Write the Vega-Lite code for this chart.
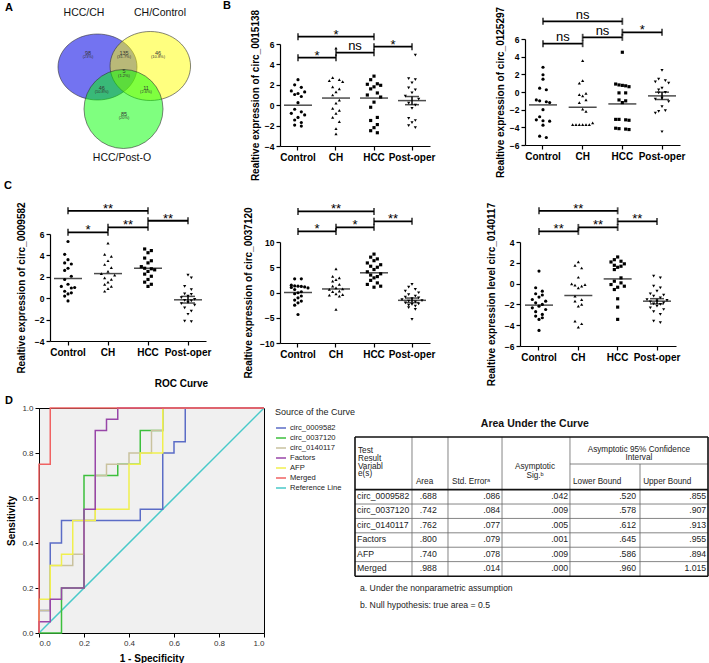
{
"$schema":"https://vega.github.io/schema/vega-lite/v6.json",
"padding":0,
"config":{"font":"Liberation Sans","view":{"stroke":null},"concat":{"spacing":0},
"axis":{"grid":false,"domainColor":"#000","tickColor":"#000","labelColor":"#000","titleColor":"#000","labelOverlap":false},
"title":{"color":"#000"}},
"resolve":{"scale":{"color":"independent","shape":"independent"},"legend":{"color":"independent","shape":"independent"}},
"datasets":{
"b1":[
{"g":"Control","v":2.5,"j":0},{"g":"Control","v":2.0,"j":-1},{"g":"Control","v":1.75,"j":1},{"g":"Control","v":1.4,"j":-2},{"g":"Control","v":1.3,"j":2},{"g":"Control","v":1.15,"j":0},{"g":"Control","v":1.05,"j":-1},{"g":"Control","v":0.85,"j":1},{"g":"Control","v":0.25,"j":0},{"g":"Control","v":-0.4,"j":-1},{"g":"Control","v":-0.65,"j":1},{"g":"Control","v":-0.8,"j":-2},{"g":"Control","v":-0.95,"j":2},{"g":"Control","v":-1.2,"j":0},{"g":"Control","v":-1.45,"j":-1},{"g":"Control","v":-1.7,"j":1},{"g":"Control","v":-1.95,"j":-1},{"g":"Control","v":-2.05,"j":1},
{"g":"CH","v":5.6,"j":0},{"g":"CH","v":2.7,"j":-1},{"g":"CH","v":2.5,"j":1},{"g":"CH","v":2.4,"j":-2},{"g":"CH","v":2.3,"j":2},{"g":"CH","v":1.8,"j":-1},{"g":"CH","v":1.6,"j":1},{"g":"CH","v":1.3,"j":0},{"g":"CH","v":1.0,"j":-1},{"g":"CH","v":0.5,"j":1},{"g":"CH","v":0.2,"j":0},{"g":"CH","v":-0.3,"j":-1},{"g":"CH","v":-0.5,"j":1},{"g":"CH","v":-0.8,"j":0},{"g":"CH","v":-1.2,"j":-1},{"g":"CH","v":-1.6,"j":1},{"g":"CH","v":-2.3,"j":0},{"g":"CH","v":-2.8,"j":0},
{"g":"HCC","v":2.85,"j":0},{"g":"HCC","v":2.5,"j":-1},{"g":"HCC","v":2.1,"j":1},{"g":"HCC","v":2.05,"j":-2},{"g":"HCC","v":1.95,"j":2},{"g":"HCC","v":1.8,"j":0},{"g":"HCC","v":1.6,"j":-1},{"g":"HCC","v":1.2,"j":1},{"g":"HCC","v":1.0,"j":-2},{"g":"HCC","v":0.8,"j":2},{"g":"HCC","v":0.3,"j":0},{"g":"HCC","v":-0.2,"j":-1},{"g":"HCC","v":-1.2,"j":1},{"g":"HCC","v":-1.5,"j":-1},{"g":"HCC","v":-1.9,"j":1},{"g":"HCC","v":-2.2,"j":0},{"g":"HCC","v":-2.5,"j":-1},{"g":"HCC","v":-2.7,"j":1},
{"g":"Post-oper","v":4.9,"j":1},{"g":"Post-oper","v":2.6,"j":-1},{"g":"Post-oper","v":2.5,"j":1},{"g":"Post-oper","v":2.2,"j":0},{"g":"Post-oper","v":1.7,"j":-1},{"g":"Post-oper","v":1.5,"j":1},{"g":"Post-oper","v":1.2,"j":0},{"g":"Post-oper","v":0.9,"j":-2},{"g":"Post-oper","v":0.6,"j":2},{"g":"Post-oper","v":0.2,"j":-1},{"g":"Post-oper","v":0.0,"j":1},{"g":"Post-oper","v":-0.3,"j":0},{"g":"Post-oper","v":-1.3,"j":-1},{"g":"Post-oper","v":-1.5,"j":1},{"g":"Post-oper","v":-1.7,"j":0},{"g":"Post-oper","v":-2.0,"j":-1},{"g":"Post-oper","v":-2.2,"j":1}],
"b2":[
{"g":"Control","v":2.8,"j":0},{"g":"Control","v":1.95,"j":0},{"g":"Control","v":1.45,"j":0},{"g":"Control","v":0.43,"j":-1},{"g":"Control","v":0.25,"j":1},{"g":"Control","v":-0.9,"j":-2},{"g":"Control","v":-1.0,"j":-1},{"g":"Control","v":-1.1,"j":1},{"g":"Control","v":-1.2,"j":2},{"g":"Control","v":-2.0,"j":0},{"g":"Control","v":-2.8,"j":-1},{"g":"Control","v":-3.15,"j":-2},{"g":"Control","v":-3.25,"j":0},{"g":"Control","v":-3.3,"j":2},{"g":"Control","v":-3.75,"j":0},{"g":"Control","v":-5.0,"j":-1},{"g":"Control","v":-5.15,"j":1},
{"g":"CH","v":3.55,"j":0},{"g":"CH","v":1.3,"j":0},{"g":"CH","v":1.0,"j":-1},{"g":"CH","v":-0.15,"j":1},{"g":"CH","v":-0.3,"j":-1},{"g":"CH","v":-0.45,"j":0},{"g":"CH","v":-0.9,"j":1},{"g":"CH","v":-1.2,"j":-1},{"g":"CH","v":-1.95,"j":0},{"g":"CH","v":-2.2,"j":1},{"g":"CH","v":-3.5,"j":3},{"g":"CH","v":-3.7,"j":-3},{"g":"CH","v":-3.7,"j":-2},{"g":"CH","v":-3.7,"j":-1},{"g":"CH","v":-3.7,"j":0},{"g":"CH","v":-3.7,"j":1},{"g":"CH","v":-3.7,"j":2},
{"g":"HCC","v":4.5,"j":0},{"g":"HCC","v":0.9,"j":-2},{"g":"HCC","v":0.8,"j":-1},{"g":"HCC","v":0.75,"j":0},{"g":"HCC","v":0.7,"j":1},{"g":"HCC","v":0.6,"j":2},{"g":"HCC","v":-0.1,"j":-1},{"g":"HCC","v":-0.1,"j":1},{"g":"HCC","v":-0.9,"j":-1},{"g":"HCC","v":-1.0,"j":1},{"g":"HCC","v":-1.2,"j":0},{"g":"HCC","v":-3.1,"j":-2},{"g":"HCC","v":-3.1,"j":-1},{"g":"HCC","v":-3.15,"j":1},{"g":"HCC","v":-3.2,"j":2},{"g":"HCC","v":-4.1,"j":-2},{"g":"HCC","v":-4.15,"j":-1},{"g":"HCC","v":-4.2,"j":1},{"g":"HCC","v":-4.25,"j":2},
{"g":"Post-oper","v":2.45,"j":0},{"g":"Post-oper","v":1.45,"j":-1},{"g":"Post-oper","v":1.3,"j":1},{"g":"Post-oper","v":1.15,"j":-2},{"g":"Post-oper","v":1.0,"j":2},{"g":"Post-oper","v":0.45,"j":0},{"g":"Post-oper","v":0.25,"j":-1},{"g":"Post-oper","v":-0.05,"j":1},{"g":"Post-oper","v":-0.1,"j":-1},{"g":"Post-oper","v":-0.7,"j":0},{"g":"Post-oper","v":-0.8,"j":-2},{"g":"Post-oper","v":-1.1,"j":2},{"g":"Post-oper","v":-1.65,"j":0},{"g":"Post-oper","v":-2.1,"j":1},{"g":"Post-oper","v":-2.2,"j":-1},{"g":"Post-oper","v":-2.4,"j":-2},{"g":"Post-oper","v":-4.5,"j":0}],
"c1":[
{"g":"Control","v":5.3,"j":0},{"g":"Control","v":4.1,"j":-1},{"g":"Control","v":3.6,"j":0},{"g":"Control","v":3.3,"j":-1},{"g":"Control","v":3.2,"j":1},{"g":"Control","v":2.8,"j":0},{"g":"Control","v":2.6,"j":-1},{"g":"Control","v":2.05,"j":1},{"g":"Control","v":1.75,"j":-1},{"g":"Control","v":1.3,"j":0},{"g":"Control","v":1.1,"j":-2},{"g":"Control","v":1.0,"j":2},{"g":"Control","v":0.95,"j":1},{"g":"Control","v":0.65,"j":-1},{"g":"Control","v":0.5,"j":1},{"g":"Control","v":0.4,"j":0},{"g":"Control","v":0.2,"j":-1},{"g":"Control","v":-0.25,"j":0},
{"g":"CH","v":5.15,"j":0},{"g":"CH","v":4.1,"j":-1},{"g":"CH","v":3.9,"j":1},{"g":"CH","v":3.5,"j":0},{"g":"CH","v":3.15,"j":-1},{"g":"CH","v":2.85,"j":1},{"g":"CH","v":2.5,"j":0},{"g":"CH","v":2.3,"j":-2},{"g":"CH","v":2.15,"j":2},{"g":"CH","v":1.9,"j":-1},{"g":"CH","v":1.75,"j":1},{"g":"CH","v":1.5,"j":0},{"g":"CH","v":1.3,"j":-1},{"g":"CH","v":1.1,"j":1},{"g":"CH","v":0.9,"j":0},{"g":"CH","v":0.65,"j":-1},
{"g":"HCC","v":4.6,"j":-1},{"g":"HCC","v":4.45,"j":1},{"g":"HCC","v":4.25,"j":0},{"g":"HCC","v":3.75,"j":-1},{"g":"HCC","v":3.5,"j":1},{"g":"HCC","v":3.3,"j":0},{"g":"HCC","v":2.95,"j":-2},{"g":"HCC","v":2.8,"j":-1},{"g":"HCC","v":2.75,"j":1},{"g":"HCC","v":2.65,"j":2},{"g":"HCC","v":2.5,"j":0},{"g":"HCC","v":2.25,"j":-1},{"g":"HCC","v":2.05,"j":1},{"g":"HCC","v":1.75,"j":0},{"g":"HCC","v":1.5,"j":-1},{"g":"HCC","v":1.3,"j":1},{"g":"HCC","v":1.1,"j":0},
{"g":"Post-oper","v":2.15,"j":0},{"g":"Post-oper","v":1.9,"j":1},{"g":"Post-oper","v":1.1,"j":-1},{"g":"Post-oper","v":0.8,"j":1},{"g":"Post-oper","v":0.4,"j":-1},{"g":"Post-oper","v":0.35,"j":1},{"g":"Post-oper","v":0.2,"j":0},{"g":"Post-oper","v":0.05,"j":-2},{"g":"Post-oper","v":-0.1,"j":2},{"g":"Post-oper","v":-0.2,"j":-1},{"g":"Post-oper","v":-0.25,"j":1},{"g":"Post-oper","v":-0.4,"j":0},{"g":"Post-oper","v":-0.5,"j":-2},{"g":"Post-oper","v":-0.65,"j":2},{"g":"Post-oper","v":-0.9,"j":-1},{"g":"Post-oper","v":-1.2,"j":1},{"g":"Post-oper","v":-1.5,"j":0},{"g":"Post-oper","v":-2.15,"j":-1},{"g":"Post-oper","v":-2.2,"j":1}],
"c2":[
{"g":"Control","v":2.7,"j":-1},{"g":"Control","v":2.7,"j":1},{"g":"Control","v":1.45,"j":-2},{"g":"Control","v":1.3,"j":-1},{"g":"Control","v":1.25,"j":0},{"g":"Control","v":1.2,"j":1},{"g":"Control","v":1.1,"j":2},{"g":"Control","v":1.0,"j":-2},{"g":"Control","v":0.9,"j":3},{"g":"Control","v":0.6,"j":-1},{"g":"Control","v":0.15,"j":1},{"g":"Control","v":-0.05,"j":0},{"g":"Control","v":-0.25,"j":-1},{"g":"Control","v":-0.7,"j":1},{"g":"Control","v":-1.05,"j":0},{"g":"Control","v":-1.5,"j":-1},{"g":"Control","v":-1.7,"j":1},{"g":"Control","v":-2.05,"j":0},{"g":"Control","v":-2.5,"j":-1},{"g":"Control","v":-4.35,"j":0},
{"g":"CH","v":4.7,"j":0},{"g":"CH","v":3.2,"j":-1},{"g":"CH","v":2.9,"j":1},{"g":"CH","v":2.55,"j":0},{"g":"CH","v":2.25,"j":-1},{"g":"CH","v":1.6,"j":1},{"g":"CH","v":1.25,"j":-1},{"g":"CH","v":0.9,"j":0},{"g":"CH","v":0.7,"j":2},{"g":"CH","v":0.6,"j":-2},{"g":"CH","v":0.25,"j":1},{"g":"CH","v":0.15,"j":-1},{"g":"CH","v":-0.25,"j":0},{"g":"CH","v":-0.4,"j":2},{"g":"CH","v":-0.5,"j":-2},{"g":"CH","v":-0.7,"j":1},{"g":"CH","v":-3.35,"j":0},
{"g":"HCC","v":7.6,"j":0},{"g":"HCC","v":7.0,"j":-1},{"g":"HCC","v":6.65,"j":1},{"g":"HCC","v":6.3,"j":0},{"g":"HCC","v":5.85,"j":-2},{"g":"HCC","v":5.5,"j":2},{"g":"HCC","v":5.2,"j":-1},{"g":"HCC","v":5.0,"j":1},{"g":"HCC","v":4.55,"j":0},{"g":"HCC","v":4.1,"j":-2},{"g":"HCC","v":3.7,"j":2},{"g":"HCC","v":3.45,"j":-1},{"g":"HCC","v":3.15,"j":1},{"g":"HCC","v":2.9,"j":0},{"g":"HCC","v":2.4,"j":-1},{"g":"HCC","v":1.9,"j":1},{"g":"HCC","v":1.6,"j":-2},{"g":"HCC","v":1.25,"j":2},{"g":"HCC","v":1.05,"j":0},
{"g":"Post-oper","v":1.6,"j":0},{"g":"Post-oper","v":1.05,"j":-1},{"g":"Post-oper","v":0.6,"j":1},{"g":"Post-oper","v":0.25,"j":-2},{"g":"Post-oper","v":-0.05,"j":2},{"g":"Post-oper","v":-0.4,"j":-1},{"g":"Post-oper","v":-0.7,"j":1},{"g":"Post-oper","v":-0.9,"j":-2},{"g":"Post-oper","v":-1.05,"j":2},{"g":"Post-oper","v":-1.2,"j":0},{"g":"Post-oper","v":-1.4,"j":-3},{"g":"Post-oper","v":-1.6,"j":3},{"g":"Post-oper","v":-1.7,"j":-1},{"g":"Post-oper","v":-1.85,"j":1},{"g":"Post-oper","v":-2.05,"j":-2},{"g":"Post-oper","v":-2.25,"j":2},{"g":"Post-oper","v":-2.35,"j":0},{"g":"Post-oper","v":-2.5,"j":-1},{"g":"Post-oper","v":-2.7,"j":1},{"g":"Post-oper","v":-3.0,"j":-1},{"g":"Post-oper","v":-3.35,"j":1},{"g":"Post-oper","v":-5.3,"j":0}],
"c3":[
{"g":"Control","v":1.2,"j":0},{"g":"Control","v":-0.4,"j":-1},{"g":"Control","v":-0.73,"j":1},{"g":"Control","v":-0.98,"j":-1},{"g":"Control","v":-1.1,"j":1},{"g":"Control","v":-1.3,"j":0},{"g":"Control","v":-1.53,"j":-2},{"g":"Control","v":-1.69,"j":2},{"g":"Control","v":-1.85,"j":-1},{"g":"Control","v":-2.0,"j":1},{"g":"Control","v":-2.17,"j":0},{"g":"Control","v":-2.33,"j":-2},{"g":"Control","v":-2.49,"j":2},{"g":"Control","v":-2.7,"j":-1},{"g":"Control","v":-2.96,"j":1},{"g":"Control","v":-3.12,"j":-1},{"g":"Control","v":-3.28,"j":1},{"g":"Control","v":-3.44,"j":0},{"g":"Control","v":-4.5,"j":0},
{"g":"CH","v":2.08,"j":0},{"g":"CH","v":1.76,"j":-1},{"g":"CH","v":1.5,"j":1},{"g":"CH","v":0.61,"j":0},{"g":"CH","v":-0.03,"j":-2},{"g":"CH","v":-0.1,"j":2},{"g":"CH","v":-0.15,"j":-1},{"g":"CH","v":-0.25,"j":1},{"g":"CH","v":-0.4,"j":0},{"g":"CH","v":-1.2,"j":-1},{"g":"CH","v":-1.53,"j":1},{"g":"CH","v":-1.69,"j":-1},{"g":"CH","v":-2.0,"j":1},{"g":"CH","v":-2.17,"j":0},{"g":"CH","v":-3.6,"j":-1},{"g":"CH","v":-3.86,"j":1},{"g":"CH","v":-4.18,"j":0},
{"g":"HCC","v":2.56,"j":0},{"g":"HCC","v":2.3,"j":-1},{"g":"HCC","v":2.15,"j":1},{"g":"HCC","v":2.08,"j":-2},{"g":"HCC","v":1.9,"j":2},{"g":"HCC","v":1.76,"j":-1},{"g":"HCC","v":1.67,"j":1},{"g":"HCC","v":1.57,"j":0},{"g":"HCC","v":1.35,"j":-1},{"g":"HCC","v":0.55,"j":1},{"g":"HCC","v":0.23,"j":-1},{"g":"HCC","v":0.07,"j":1},{"g":"HCC","v":-0.09,"j":-2},{"g":"HCC","v":-0.25,"j":2},{"g":"HCC","v":-0.35,"j":0},{"g":"HCC","v":-0.57,"j":-1},{"g":"HCC","v":-1.46,"j":0},{"g":"HCC","v":-2.26,"j":0},{"g":"HCC","v":-3.44,"j":0},
{"g":"Post-oper","v":0.71,"j":-1},{"g":"Post-oper","v":0.55,"j":1},{"g":"Post-oper","v":-0.25,"j":-1},{"g":"Post-oper","v":-0.4,"j":1},{"g":"Post-oper","v":-0.73,"j":0},{"g":"Post-oper","v":-0.98,"j":-2},{"g":"Post-oper","v":-1.1,"j":2},{"g":"Post-oper","v":-1.2,"j":-1},{"g":"Post-oper","v":-1.37,"j":1},{"g":"Post-oper","v":-1.53,"j":-3},{"g":"Post-oper","v":-1.62,"j":3},{"g":"Post-oper","v":-1.69,"j":0},{"g":"Post-oper","v":-1.75,"j":-2},{"g":"Post-oper","v":-1.85,"j":2},{"g":"Post-oper","v":-1.94,"j":-1},{"g":"Post-oper","v":-2.0,"j":1},{"g":"Post-oper","v":-2.17,"j":0},{"g":"Post-oper","v":-2.33,"j":-2},{"g":"Post-oper","v":-2.49,"j":2},{"g":"Post-oper","v":-2.7,"j":-1},{"g":"Post-oper","v":-2.96,"j":1},{"g":"Post-oper","v":-3.6,"j":-1},{"g":"Post-oper","v":-3.76,"j":1}],
"mean":[
{"p":"B1","g":"Control","m":0.0},{"p":"B1","g":"CH","m":0.7},{"p":"B1","g":"HCC","m":0.7},{"p":"B1","g":"Post-oper","m":0.45,"lo":0.05,"hi":0.85},
{"p":"B2","g":"Control","m":-1.46},{"p":"B2","g":"CH","m":-1.73},{"p":"B2","g":"HCC","m":-1.35},{"p":"B2","g":"Post-oper","m":-0.44,"lo":-0.85,"hi":-0.02},
{"p":"C1","g":"Control","m":1.84},{"p":"C1","g":"CH","m":2.3},{"p":"C1","g":"HCC","m":2.8},{"p":"C1","g":"Post-oper","m":-0.15,"lo":-0.45,"hi":0.17},
{"p":"C2","g":"Control","m":0.0},{"p":"C2","g":"CH","m":0.7},{"p":"C2","g":"HCC","m":3.9},{"p":"C2","g":"Post-oper","m":-1.55,"lo":-2.0,"hi":-1.1},
{"p":"C3","g":"Control","m":-2.07},{"p":"C3","g":"CH","m":-1.14},{"p":"C3","g":"HCC","m":0.45},{"p":"C3","g":"Post-oper","m":-1.69,"lo":-1.95,"hi":-1.45}],
"sig":[
{"p":"B1","a":"Control","b":"HCC","m":"CH","y":6.72,"t":"*"},{"p":"B1","a":"Control","b":"CH","m":"m1","y":4.66,"t":"*"},{"p":"B1","a":"CH","b":"HCC","m":"m2","y":5.15,"t":"ns"},{"p":"B1","a":"HCC","b":"Post-oper","m":"m3","y":5.74,"t":"*"},
{"p":"B2","a":"Control","b":"HCC","m":"CH","y":8.0,"t":"ns"},{"p":"B2","a":"Control","b":"CH","m":"m1","y":5.47,"t":"ns"},{"p":"B2","a":"CH","b":"HCC","m":"m2","y":6.19,"t":"ns"},{"p":"B2","a":"HCC","b":"Post-oper","m":"m3","y":6.76,"t":"*"},
{"p":"C1","a":"Control","b":"HCC","m":"CH","y":8.17,"t":"**"},{"p":"C1","a":"Control","b":"CH","m":"m1","y":6.16,"t":"*"},{"p":"C1","a":"CH","b":"HCC","m":"m2","y":6.62,"t":"**"},{"p":"C1","a":"HCC","b":"Post-oper","m":"m3","y":7.24,"t":"**"},
{"p":"C2","a":"Control","b":"HCC","m":"CH","y":16.05,"t":"**"},{"p":"C2","a":"Control","b":"CH","m":"m1","y":12.1,"t":"*"},{"p":"C2","a":"CH","b":"HCC","m":"m2","y":12.9,"t":"*"},{"p":"C2","a":"HCC","b":"Post-oper","m":"m3","y":14.1,"t":"**"},
{"p":"C3","a":"Control","b":"HCC","m":"CH","y":7.0,"t":"**"},{"p":"C3","a":"Control","b":"CH","m":"m1","y":5.02,"t":"**"},{"p":"C3","a":"CH","b":"HCC","m":"m2","y":5.4,"t":"**"},{"p":"C3","a":"HCC","b":"Post-oper","m":"m3","y":5.98,"t":"**"}],
"venn":[{"s":"b","x":97.5,"y":64},{"s":"y","x":150.3,"y":63},{"s":"g","x":123.5,"y":106}],
"vbig":[{"t":"HCC/CH","x":84,"y":12.7},{"t":"CH/Control","x":160,"y":12.7},{"t":"HCC/Post-O","x":122,"y":158}],
"vnum":[{"t":"98","x":88,"y":50},{"t":"135","x":124,"y":50},{"t":"46","x":158,"y":50},{"t":"5","x":124,"y":68.3},{"t":"46","x":101.7,"y":85},{"t":"11","x":146,"y":85},{"t":"85","x":124,"y":111}],
"vpct":[{"t":"(23%)","x":88,"y":54.3},{"t":"(31.7%)","x":124,"y":54.3},{"t":"(10.8%)","x":158,"y":54.3},{"t":"(1.2%)","x":124,"y":72.7},{"t":"(10.8%)","x":101.7,"y":89.3},{"t":"(2.6%)","x":146,"y":89.3},{"t":"(20%)","x":124,"y":115.3}],
"roc":[
{"s":"Reference Line","i":0,"x":0,"y":0},{"s":"Reference Line","i":1,"x":1,"y":1},
{"s":"circ_0009582","i":0,"x":0,"y":0},{"s":"circ_0009582","i":1,"x":0,"y":0.1},{"s":"circ_0009582","i":2,"x":0.05,"y":0.1},{"s":"circ_0009582","i":3,"x":0.05,"y":0.4},{"s":"circ_0009582","i":4,"x":0.1,"y":0.4},{"s":"circ_0009582","i":5,"x":0.1,"y":0.5},{"s":"circ_0009582","i":6,"x":0.45,"y":0.5},{"s":"circ_0009582","i":7,"x":0.45,"y":0.55},{"s":"circ_0009582","i":8,"x":0.55,"y":0.55},{"s":"circ_0009582","i":9,"x":0.55,"y":0.8},{"s":"circ_0009582","i":10,"x":0.6,"y":0.8},{"s":"circ_0009582","i":11,"x":0.6,"y":0.85},{"s":"circ_0009582","i":12,"x":0.65,"y":0.85},{"s":"circ_0009582","i":13,"x":0.65,"y":1},{"s":"circ_0009582","i":14,"x":1,"y":1},
{"s":"circ_0037120","i":0,"x":0,"y":0},{"s":"circ_0037120","i":1,"x":0.1,"y":0},{"s":"circ_0037120","i":2,"x":0.1,"y":0.2},{"s":"circ_0037120","i":3,"x":0.2,"y":0.2},{"s":"circ_0037120","i":4,"x":0.2,"y":0.7},{"s":"circ_0037120","i":5,"x":0.35,"y":0.7},{"s":"circ_0037120","i":6,"x":0.35,"y":0.75},{"s":"circ_0037120","i":7,"x":0.45,"y":0.75},{"s":"circ_0037120","i":8,"x":0.45,"y":0.9},{"s":"circ_0037120","i":9,"x":0.55,"y":0.9},{"s":"circ_0037120","i":10,"x":0.55,"y":1},{"s":"circ_0037120","i":11,"x":1,"y":1},
{"s":"circ_0140117","i":0,"x":0,"y":0},{"s":"circ_0140117","i":1,"x":0,"y":0.1},{"s":"circ_0140117","i":2,"x":0.05,"y":0.1},{"s":"circ_0140117","i":3,"x":0.05,"y":0.3},{"s":"circ_0140117","i":4,"x":0.15,"y":0.3},{"s":"circ_0140117","i":5,"x":0.15,"y":0.35},{"s":"circ_0140117","i":6,"x":0.2,"y":0.35},{"s":"circ_0140117","i":7,"x":0.2,"y":0.5},{"s":"circ_0140117","i":8,"x":0.25,"y":0.5},{"s":"circ_0140117","i":9,"x":0.25,"y":0.7},{"s":"circ_0140117","i":10,"x":0.3,"y":0.7},{"s":"circ_0140117","i":11,"x":0.3,"y":0.75},{"s":"circ_0140117","i":12,"x":0.4,"y":0.75},{"s":"circ_0140117","i":13,"x":0.4,"y":0.8},{"s":"circ_0140117","i":14,"x":0.5,"y":0.8},{"s":"circ_0140117","i":15,"x":0.5,"y":0.9},{"s":"circ_0140117","i":16,"x":0.55,"y":0.9},{"s":"circ_0140117","i":17,"x":0.55,"y":1},{"s":"circ_0140117","i":18,"x":1,"y":1},
{"s":"AFP","i":0,"x":0,"y":0},{"s":"AFP","i":1,"x":0,"y":0.15},{"s":"AFP","i":2,"x":0.05,"y":0.15},{"s":"AFP","i":3,"x":0.05,"y":0.3},{"s":"AFP","i":4,"x":0.1,"y":0.3},{"s":"AFP","i":5,"x":0.1,"y":0.35},{"s":"AFP","i":6,"x":0.15,"y":0.35},{"s":"AFP","i":7,"x":0.15,"y":0.5},{"s":"AFP","i":8,"x":0.25,"y":0.5},{"s":"AFP","i":9,"x":0.25,"y":0.55},{"s":"AFP","i":10,"x":0.4,"y":0.55},{"s":"AFP","i":11,"x":0.4,"y":0.75},{"s":"AFP","i":12,"x":0.45,"y":0.75},{"s":"AFP","i":13,"x":0.45,"y":0.8},{"s":"AFP","i":14,"x":0.55,"y":0.8},{"s":"AFP","i":15,"x":0.55,"y":1},{"s":"AFP","i":16,"x":1,"y":1},
{"s":"Factors","i":0,"x":0,"y":0},{"s":"Factors","i":1,"x":0,"y":0.05},{"s":"Factors","i":2,"x":0.05,"y":0.05},{"s":"Factors","i":3,"x":0.05,"y":0.15},{"s":"Factors","i":4,"x":0.1,"y":0.15},{"s":"Factors","i":5,"x":0.1,"y":0.2},{"s":"Factors","i":6,"x":0.2,"y":0.2},{"s":"Factors","i":7,"x":0.2,"y":0.55},{"s":"Factors","i":8,"x":0.25,"y":0.55},{"s":"Factors","i":9,"x":0.25,"y":0.9},{"s":"Factors","i":10,"x":0.3,"y":0.9},{"s":"Factors","i":11,"x":0.3,"y":0.95},{"s":"Factors","i":12,"x":0.35,"y":0.95},{"s":"Factors","i":13,"x":0.35,"y":1},{"s":"Factors","i":14,"x":1,"y":1},
{"s":"Merged","i":0,"x":0,"y":0},{"s":"Merged","i":1,"x":0,"y":0.75},{"s":"Merged","i":2,"x":0.05,"y":0.75},{"s":"Merged","i":3,"x":0.05,"y":1},{"s":"Merged","i":4,"x":1,"y":1}],
"auc":[
{"k":0,"n":"circ_0009582","a":".688","se":".086","sig":".042","lo":".520","hi":".855"},
{"k":1,"n":"circ_0037120","a":".742","se":".084","sig":".009","lo":".578","hi":".907"},
{"k":2,"n":"circ_0140117","a":".762","se":".077","sig":".005","lo":".612","hi":".913"},
{"k":3,"n":"\u2002Factors","a":".800","se":".079","sig":".001","lo":".645","hi":".955"},
{"k":4,"n":"\u2002AFP","a":".740","se":".078","sig":".009","lo":".586","hi":".894"},
{"k":5,"n":"\u2002Merged","a":".988","se":".014","sig":".000","lo":".960","hi":"1.015"}],
"cols":[{"key":"a","x":23.1},{"key":"se","x":41.0},{"key":"sig","x":60.2},{"key":"lo","x":79.4},{"key":"hi","x":99.2}],
"hdrL":[{"t":"Test","x":0.85,"y":-3.1},{"t":"Result","x":0.85,"y":-2.55},{"t":"Variabl","x":0.85,"y":-2.03},{"t":"e(s)","x":0.85,"y":-1.5},{"t":"Area","x":17.2,"y":-0.95},{"t":"Std. Error\u1d43","x":27.4,"y":-0.95},{"t":"Lower Bound","x":61.6,"y":-0.95},{"t":"Upper Bound","x":81.4,"y":-0.95}],
"hdrC":[{"t":"Asymptotic","x":50.85,"y":-1.98},{"t":"Sig.\u1d47","x":50.85,"y":-1.42},{"t":"Asymptotic 95% Confidence","x":80.2,"y":-3.2},{"t":"Interval","x":80.2,"y":-2.64}],
"ln":[{"x":16.1,"x2":16.1,"y":-4.1,"y2":5.58},{"x":26.27,"x2":26.27,"y":-4.1,"y2":5.58},{"x":41.53,"x2":41.53,"y":-4.1,"y2":5.58},{"x":60.73,"x2":60.73,"y":-4.1,"y2":5.58},{"x":80.51,"x2":80.51,"y":-2.22,"y2":5.58},{"x":60.73,"x2":99.72,"y":-2.22,"y2":-2.22},{"x":0,"x2":99.72,"y":0.56,"y2":0.56},{"x":0,"x2":99.72,"y":1.56,"y2":1.56},{"x":0,"x2":99.72,"y":2.56,"y2":2.56},{"x":0,"x2":99.72,"y":3.56,"y2":3.56},{"x":0,"x2":99.72,"y":4.56,"y2":4.56}],
"lnT":[{"x":0,"x2":99.72,"y":-4.1,"y2":-4.1},{"x":0,"x2":99.72,"y":5.58,"y2":5.58},{"x":0,"x2":0,"y":-4.1,"y2":5.58},{"x":99.72,"x2":99.72,"y":-4.1,"y2":5.58},{"x":0,"x2":99.72,"y":-0.44,"y2":-0.44}],
"ttl":[{"t":"Area Under the Curve","x":50.8,"y":-5.0}],
"fn":[{"t":"a. Under the nonparametric assumption","x":1.4,"y":6.4},{"t":"b. Null hypothesis: true area = 0.5","x":1.4,"y":7.57}]
},
"columns":4,
"align":{"row":"none","column":"none"},
"bounds":"flush",
"spacing":0,
"concat":[
{"width":39,"height":165,"title":{"text":"A","anchor":"start","frame":"group","fontSize":11,"fontWeight":"bold","offset":-10,"dx":5},"data":{"values":[]},"mark":"point"},
{"width":241,"height":165,
 "title":{"text":"B","anchor":"start","frame":"group","fontSize":11,"fontWeight":"bold","offset":-8,"dx":184},
 "layer":[
  {"data":{"name":"venn"},"transform":[{"filter":"datum.s=='b'"}],"mark":{"type":"point","filled":true,"opacity":1,"fill":"rgba(0,0,230,0.55)","stroke":"#333","strokeWidth":0.6,"shape":"M-1,0A1,0.835,0,1,0,1,0A1,0.835,0,1,0,-1,0Z","size":6241},
   "encoding":{"x":{"field":"x","type":"quantitative","scale":{"domain":[39,280],"nice":false,"zero":false},"axis":null},"y":{"field":"y","type":"quantitative","scale":{"domain":[0,165],"reverse":true,"nice":false,"zero":false},"axis":null}}},
  {"data":{"name":"venn"},"transform":[{"filter":"datum.s=='y'"}],"mark":{"type":"point","filled":true,"opacity":1,"fill":"rgba(255,255,0,0.5)","stroke":"#333","strokeWidth":0.6,"shape":"M-1,0A1,0.857,0,1,0,1,0A1,0.857,0,1,0,-1,0Z","size":6480},
   "encoding":{"x":{"field":"x","type":"quantitative","axis":null},"y":{"field":"y","type":"quantitative","axis":null}}},
  {"data":{"name":"venn"},"transform":[{"filter":"datum.s=='g'"}],"mark":{"type":"point","filled":true,"opacity":1,"fill":"rgba(0,255,0,0.5)","stroke":"#333","strokeWidth":0.6,"shape":"circle","size":6241},
   "encoding":{"x":{"field":"x","type":"quantitative","axis":null},"y":{"field":"y","type":"quantitative","axis":null}}},
  {"data":{"name":"vbig"},"mark":{"type":"text","fontSize":10.5,"baseline":"alphabetic","color":"#111"},
   "encoding":{"x":{"field":"x","type":"quantitative","axis":null},"y":{"field":"y","type":"quantitative","axis":null},"text":{"field":"t"}}},
  {"data":{"name":"vnum"},"mark":{"type":"text","fontSize":5.5,"baseline":"middle","color":"#333"},
   "encoding":{"x":{"field":"x","type":"quantitative","axis":null},"y":{"field":"y","type":"quantitative","axis":null},"text":{"field":"t"}}},
  {"data":{"name":"vpct"},"mark":{"type":"text","fontSize":4,"baseline":"middle","color":"#333"},
   "encoding":{"x":{"field":"x","type":"quantitative","axis":null},"y":{"field":"y","type":"quantitative","axis":null},"text":{"field":"t"}}}
 ]},
{"width":245,"height":143,
 "layer":[
  {"data":{"name":"b1"},"mark":{"type":"point","filled":true,"color":"#000","opacity":1,"size":10},
   "encoding":{
    "x":{"field":"g","type":"nominal","title":null,"scale":{"type":"band","domain":["Control","m1","CH","m2","HCC","m3","Post-oper"],"range":[0,150],"paddingInner":1,"paddingOuter":0.947},"axis":{"values":["Control","CH","HCC","Post-oper"],"labelAngle":0,"labelFontSize":10,"labelFontWeight":"bold","tickSize":4,"labelPadding":2,"domainWidth":1.2,"tickWidth":1.2,"labelOverlap":false}},
    "xOffset":{"field":"j","type":"quantitative","scale":{"domain":[-3,3],"range":[-10,10]}},
    "y":{"field":"v","type":"quantitative","scale":{"domain":[-4,6],"range":[143,41],"nice":false,"zero":false},"axis":{"title":"Realtive expression of circ_0015138","values":[-4,-2,0,2,4,6],"format":"d","tickCount":20,"labelFontSize":8.5,"labelFontWeight":"bold","tickSize":4,"labelPadding":2,"titleFontSize":10,"titleFontWeight":"bold","titlePadding":4,"domainWidth":1.2,"tickWidth":1.2,"labelOverlap":false}},
    "shape":{"field":"g","type":"nominal","scale":{"domain":["Control","CH","HCC","Post-oper"],"range":["circle","triangle-up","square","triangle-down"]},"legend":null}}},
  {"data":{"name":"mean"},"transform":[{"filter":"datum.p=='B1'"}],"mark":{"type":"tick","color":"#000","thickness":1.5,"size":28,"orient":"horizontal"},"encoding":{"x":{"field":"g","type":"nominal","title":null},"y":{"field":"m","type":"quantitative"}}},
  {"data":{"name":"mean"},"transform":[{"filter":"datum.p=='B1' && isValid(datum.lo)"}],"mark":{"type":"rule","color":"#000","strokeWidth":1.5},"encoding":{"x":{"field":"g","type":"nominal","title":null},"y":{"field":"lo","type":"quantitative"},"y2":{"field":"hi"}}},
  {"data":{"name":"mean"},"transform":[{"filter":"datum.p=='B1' && isValid(datum.lo)"}],"mark":{"type":"tick","color":"#000","thickness":1.5,"size":14,"orient":"horizontal"},"encoding":{"x":{"field":"g","type":"nominal","title":null},"y":{"field":"lo","type":"quantitative"}}},
  {"data":{"name":"mean"},"transform":[{"filter":"datum.p=='B1' && isValid(datum.lo)"}],"mark":{"type":"tick","color":"#000","thickness":1.5,"size":14,"orient":"horizontal"},"encoding":{"x":{"field":"g","type":"nominal","title":null},"y":{"field":"hi","type":"quantitative"}}},
  {"data":{"name":"sig"},"transform":[{"filter":"datum.p=='B1'"}],"mark":{"type":"rule","color":"#000","strokeWidth":1.8},"encoding":{"x":{"field":"a","type":"nominal","title":null},"x2":{"field":"b"},"y":{"field":"y","type":"quantitative"}}},
  {"data":{"name":"sig"},"transform":[{"filter":"datum.p=='B1'"}],"mark":{"type":"tick","color":"#000","thickness":1.8,"size":7,"orient":"vertical"},"encoding":{"x":{"field":"a","type":"nominal","title":null},"y":{"field":"y","type":"quantitative"}}},
  {"data":{"name":"sig"},"transform":[{"filter":"datum.p=='B1'"}],"mark":{"type":"tick","color":"#000","thickness":1.8,"size":7,"orient":"vertical"},"encoding":{"x":{"field":"b","type":"nominal","title":null},"y":{"field":"y","type":"quantitative"}}},
  {"data":{"name":"sig"},"transform":[{"filter":"datum.p=='B1' && datum.t=='ns'"}],"mark":{"type":"text","fontSize":13,"baseline":"alphabetic","dy":-2.5,"color":"#000"},"encoding":{"x":{"field":"m","type":"nominal","title":null},"y":{"field":"y","type":"quantitative"},"text":{"field":"t"}}},
  {"data":{"name":"sig"},"transform":[{"filter":"datum.p=='B1' && datum.t!='ns'"}],"mark":{"type":"text","fontSize":13,"baseline":"alphabetic","dy":2,"color":"#000"},"encoding":{"x":{"field":"m","type":"nominal","title":null},"y":{"field":"y","type":"quantitative"},"text":{"field":"t"}}}
 ]},
{"width":184,"height":142,
 "layer":[
  {"data":{"name":"b2"},"mark":{"type":"point","filled":true,"color":"#000","opacity":1,"size":10},
   "encoding":{
    "x":{"field":"g","type":"nominal","title":null,"scale":{"type":"band","domain":["Control","m1","CH","m2","HCC","m3","Post-oper"],"range":[0,155],"paddingInner":1,"paddingOuter":0.907},"axis":{"values":["Control","CH","HCC","Post-oper"],"labelAngle":0,"labelFontSize":10,"labelFontWeight":"bold","tickSize":4,"labelPadding":2,"domainWidth":1.2,"tickWidth":1.2,"labelOverlap":false}},
    "xOffset":{"field":"j","type":"quantitative","scale":{"domain":[-3,3],"range":[-10,10]}},
    "y":{"field":"v","type":"quantitative","scale":{"domain":[-6,6],"range":[142,36],"nice":false,"zero":false},"axis":{"title":"Realtive expression of circ_0125297","values":[-6,-4,-2,0,2,4,6],"format":"d","tickCount":20,"labelFontSize":8.5,"labelFontWeight":"bold","tickSize":4,"labelPadding":2,"titleFontSize":10,"titleFontWeight":"bold","titlePadding":4,"domainWidth":1.2,"tickWidth":1.2,"labelOverlap":false}},
    "shape":{"field":"g","type":"nominal","scale":{"domain":["Control","CH","HCC","Post-oper"],"range":["circle","triangle-up","square","triangle-down"]},"legend":null}}},
  {"data":{"name":"mean"},"transform":[{"filter":"datum.p=='B2'"}],"mark":{"type":"tick","color":"#000","thickness":1.5,"size":28,"orient":"horizontal"},"encoding":{"x":{"field":"g","type":"nominal","title":null},"y":{"field":"m","type":"quantitative"}}},
  {"data":{"name":"mean"},"transform":[{"filter":"datum.p=='B2' && isValid(datum.lo)"}],"mark":{"type":"rule","color":"#000","strokeWidth":1.5},"encoding":{"x":{"field":"g","type":"nominal","title":null},"y":{"field":"lo","type":"quantitative"},"y2":{"field":"hi"}}},
  {"data":{"name":"mean"},"transform":[{"filter":"datum.p=='B2' && isValid(datum.lo)"}],"mark":{"type":"tick","color":"#000","thickness":1.5,"size":14,"orient":"horizontal"},"encoding":{"x":{"field":"g","type":"nominal","title":null},"y":{"field":"lo","type":"quantitative"}}},
  {"data":{"name":"mean"},"transform":[{"filter":"datum.p=='B2' && isValid(datum.lo)"}],"mark":{"type":"tick","color":"#000","thickness":1.5,"size":14,"orient":"horizontal"},"encoding":{"x":{"field":"g","type":"nominal","title":null},"y":{"field":"hi","type":"quantitative"}}},
  {"data":{"name":"sig"},"transform":[{"filter":"datum.p=='B2'"}],"mark":{"type":"rule","color":"#000","strokeWidth":1.8},"encoding":{"x":{"field":"a","type":"nominal","title":null},"x2":{"field":"b"},"y":{"field":"y","type":"quantitative"}}},
  {"data":{"name":"sig"},"transform":[{"filter":"datum.p=='B2'"}],"mark":{"type":"tick","color":"#000","thickness":1.8,"size":7,"orient":"vertical"},"encoding":{"x":{"field":"a","type":"nominal","title":null},"y":{"field":"y","type":"quantitative"}}},
  {"data":{"name":"sig"},"transform":[{"filter":"datum.p=='B2'"}],"mark":{"type":"tick","color":"#000","thickness":1.8,"size":7,"orient":"vertical"},"encoding":{"x":{"field":"b","type":"nominal","title":null},"y":{"field":"y","type":"quantitative"}}},
  {"data":{"name":"sig"},"transform":[{"filter":"datum.p=='B2' && datum.t=='ns'"}],"mark":{"type":"text","fontSize":13,"baseline":"alphabetic","dy":-2.5,"color":"#000"},"encoding":{"x":{"field":"m","type":"nominal","title":null},"y":{"field":"y","type":"quantitative"},"text":{"field":"t"}}},
  {"data":{"name":"sig"},"transform":[{"filter":"datum.p=='B2' && datum.t!='ns'"}],"mark":{"type":"text","fontSize":13,"baseline":"alphabetic","dy":2,"color":"#000"},"encoding":{"x":{"field":"m","type":"nominal","title":null},"y":{"field":"y","type":"quantitative"},"text":{"field":"t"}}}
 ]},
{"width":39,"height":240,"title":{"text":"C","anchor":"start","frame":"group","fontSize":11,"fontWeight":"bold","offset":-23,"dx":4},"data":{"values":[]},"mark":"point"},
{"width":241,"height":173,
 "layer":[
  {"data":{"name":"c1"},"mark":{"type":"point","filled":true,"color":"#000","opacity":1,"size":10},
   "encoding":{
    "x":{"field":"g","type":"nominal","title":null,"scale":{"type":"band","domain":["Control","m1","CH","m2","HCC","m3","Post-oper"],"range":[11,167],"paddingInner":1,"paddingOuter":0.9},"axis":{"values":["Control","CH","HCC","Post-oper"],"labelAngle":0,"labelFontSize":10,"labelFontWeight":"bold","tickSize":4,"labelPadding":2,"domainWidth":1.2,"tickWidth":1.2,"labelOverlap":false}},
    "xOffset":{"field":"j","type":"quantitative","scale":{"domain":[-3,3],"range":[-10,10]}},
    "y":{"field":"v","type":"quantitative","scale":{"domain":[-4,6],"range":[173,66],"nice":false,"zero":false},"axis":{"offset":-11,"title":"Realtive expression of circ_0009582","values":[-4,-2,0,2,4,6],"format":"d","tickCount":20,"labelFontSize":8.5,"labelFontWeight":"bold","tickSize":4,"labelPadding":2,"titleFontSize":10,"titleFontWeight":"bold","titlePadding":8,"domainWidth":1.2,"tickWidth":1.2,"labelOverlap":false}},
    "shape":{"field":"g","type":"nominal","scale":{"domain":["Control","CH","HCC","Post-oper"],"range":["circle","triangle-up","square","triangle-down"]},"legend":null}}},
  {"data":{"name":"mean"},"transform":[{"filter":"datum.p=='C1'"}],"mark":{"type":"tick","color":"#000","thickness":1.5,"size":28,"orient":"horizontal"},"encoding":{"x":{"field":"g","type":"nominal","title":null},"y":{"field":"m","type":"quantitative"}}},
  {"data":{"name":"mean"},"transform":[{"filter":"datum.p=='C1' && isValid(datum.lo)"}],"mark":{"type":"rule","color":"#000","strokeWidth":1.5},"encoding":{"x":{"field":"g","type":"nominal","title":null},"y":{"field":"lo","type":"quantitative"},"y2":{"field":"hi"}}},
  {"data":{"name":"mean"},"transform":[{"filter":"datum.p=='C1' && isValid(datum.lo)"}],"mark":{"type":"tick","color":"#000","thickness":1.5,"size":14,"orient":"horizontal"},"encoding":{"x":{"field":"g","type":"nominal","title":null},"y":{"field":"lo","type":"quantitative"}}},
  {"data":{"name":"mean"},"transform":[{"filter":"datum.p=='C1' && isValid(datum.lo)"}],"mark":{"type":"tick","color":"#000","thickness":1.5,"size":14,"orient":"horizontal"},"encoding":{"x":{"field":"g","type":"nominal","title":null},"y":{"field":"hi","type":"quantitative"}}},
  {"data":{"name":"sig"},"transform":[{"filter":"datum.p=='C1'"}],"mark":{"type":"rule","color":"#000","strokeWidth":1.8},"encoding":{"x":{"field":"a","type":"nominal","title":null},"x2":{"field":"b"},"y":{"field":"y","type":"quantitative"}}},
  {"data":{"name":"sig"},"transform":[{"filter":"datum.p=='C1'"}],"mark":{"type":"tick","color":"#000","thickness":1.8,"size":7,"orient":"vertical"},"encoding":{"x":{"field":"a","type":"nominal","title":null},"y":{"field":"y","type":"quantitative"}}},
  {"data":{"name":"sig"},"transform":[{"filter":"datum.p=='C1'"}],"mark":{"type":"tick","color":"#000","thickness":1.8,"size":7,"orient":"vertical"},"encoding":{"x":{"field":"b","type":"nominal","title":null},"y":{"field":"y","type":"quantitative"}}},
  {"data":{"name":"sig"},"transform":[{"filter":"datum.p=='C1' && datum.t=='ns'"}],"mark":{"type":"text","fontSize":13,"baseline":"alphabetic","dy":-2.5,"color":"#000"},"encoding":{"x":{"field":"m","type":"nominal","title":null},"y":{"field":"y","type":"quantitative"},"text":{"field":"t"}}},
  {"data":{"name":"sig"},"transform":[{"filter":"datum.p=='C1' && datum.t!='ns'"}],"mark":{"type":"text","fontSize":13,"baseline":"alphabetic","dy":2,"color":"#000"},"encoding":{"x":{"field":"m","type":"nominal","title":null},"y":{"field":"y","type":"quantitative"},"text":{"field":"t"}}}
 ]},
{"width":245,"height":175,
 "layer":[
  {"data":{"name":"c2"},"mark":{"type":"point","filled":true,"color":"#000","opacity":1,"size":10},
   "encoding":{
    "x":{"field":"g","type":"nominal","title":null,"scale":{"type":"band","domain":["Control","m1","CH","m2","HCC","m3","Post-oper"],"range":[0,150],"paddingInner":1,"paddingOuter":0.947},"axis":{"values":["Control","CH","HCC","Post-oper"],"labelAngle":0,"labelFontSize":10,"labelFontWeight":"bold","tickSize":4,"labelPadding":2,"domainWidth":1.2,"tickWidth":1.2,"labelOverlap":false}},
    "xOffset":{"field":"j","type":"quantitative","scale":{"domain":[-3,3],"range":[-10,10]}},
    "y":{"field":"v","type":"quantitative","scale":{"domain":[-10,10],"range":[175,74],"nice":false,"zero":false},"axis":{"title":"Realtive expression of circ_0037120","values":[-10,-5,0,5,10],"format":"d","tickCount":20,"labelFontSize":8.5,"labelFontWeight":"bold","tickSize":4,"labelPadding":2,"titleFontSize":10,"titleFontWeight":"bold","titlePadding":6,"domainWidth":1.2,"tickWidth":1.2,"labelOverlap":false}},
    "shape":{"field":"g","type":"nominal","scale":{"domain":["Control","CH","HCC","Post-oper"],"range":["circle","triangle-up","square","triangle-down"]},"legend":null}}},
  {"data":{"name":"mean"},"transform":[{"filter":"datum.p=='C2'"}],"mark":{"type":"tick","color":"#000","thickness":1.5,"size":28,"orient":"horizontal"},"encoding":{"x":{"field":"g","type":"nominal","title":null},"y":{"field":"m","type":"quantitative"}}},
  {"data":{"name":"mean"},"transform":[{"filter":"datum.p=='C2' && isValid(datum.lo)"}],"mark":{"type":"rule","color":"#000","strokeWidth":1.5},"encoding":{"x":{"field":"g","type":"nominal","title":null},"y":{"field":"lo","type":"quantitative"},"y2":{"field":"hi"}}},
  {"data":{"name":"mean"},"transform":[{"filter":"datum.p=='C2' && isValid(datum.lo)"}],"mark":{"type":"tick","color":"#000","thickness":1.5,"size":14,"orient":"horizontal"},"encoding":{"x":{"field":"g","type":"nominal","title":null},"y":{"field":"lo","type":"quantitative"}}},
  {"data":{"name":"mean"},"transform":[{"filter":"datum.p=='C2' && isValid(datum.lo)"}],"mark":{"type":"tick","color":"#000","thickness":1.5,"size":14,"orient":"horizontal"},"encoding":{"x":{"field":"g","type":"nominal","title":null},"y":{"field":"hi","type":"quantitative"}}},
  {"data":{"name":"sig"},"transform":[{"filter":"datum.p=='C2'"}],"mark":{"type":"rule","color":"#000","strokeWidth":1.8},"encoding":{"x":{"field":"a","type":"nominal","title":null},"x2":{"field":"b"},"y":{"field":"y","type":"quantitative"}}},
  {"data":{"name":"sig"},"transform":[{"filter":"datum.p=='C2'"}],"mark":{"type":"tick","color":"#000","thickness":1.8,"size":7,"orient":"vertical"},"encoding":{"x":{"field":"a","type":"nominal","title":null},"y":{"field":"y","type":"quantitative"}}},
  {"data":{"name":"sig"},"transform":[{"filter":"datum.p=='C2'"}],"mark":{"type":"tick","color":"#000","thickness":1.8,"size":7,"orient":"vertical"},"encoding":{"x":{"field":"b","type":"nominal","title":null},"y":{"field":"y","type":"quantitative"}}},
  {"data":{"name":"sig"},"transform":[{"filter":"datum.p=='C2' && datum.t=='ns'"}],"mark":{"type":"text","fontSize":13,"baseline":"alphabetic","dy":-2.5,"color":"#000"},"encoding":{"x":{"field":"m","type":"nominal","title":null},"y":{"field":"y","type":"quantitative"},"text":{"field":"t"}}},
  {"data":{"name":"sig"},"transform":[{"filter":"datum.p=='C2' && datum.t!='ns'"}],"mark":{"type":"text","fontSize":13,"baseline":"alphabetic","dy":2,"color":"#000"},"encoding":{"x":{"field":"m","type":"nominal","title":null},"y":{"field":"y","type":"quantitative"},"text":{"field":"t"}}}
 ]},
{"width":184,"height":178,
 "layer":[
  {"data":{"name":"c3"},"mark":{"type":"point","filled":true,"color":"#000","opacity":1,"size":10},
   "encoding":{
    "x":{"field":"g","type":"nominal","title":null,"scale":{"type":"band","domain":["Control","m1","CH","m2","HCC","m3","Post-oper"],"range":[-5,151],"paddingInner":1,"paddingOuter":0.966},"axis":{"values":["Control","CH","HCC","Post-oper"],"labelAngle":0,"labelFontSize":10,"labelFontWeight":"bold","tickSize":4,"labelPadding":2,"domainWidth":1.2,"tickWidth":1.2,"labelOverlap":false}},
    "xOffset":{"field":"j","type":"quantitative","scale":{"domain":[-3,3],"range":[-10,10]}},
    "y":{"field":"v","type":"quantitative","scale":{"domain":[-6,4],"range":[178,74],"nice":false,"zero":false},"axis":{"offset":5,"title":"Realtive expression level circ_0140117","values":[-6,-4,-2,0,2,4],"format":"d","tickCount":20,"labelFontSize":8.5,"labelFontWeight":"bold","tickSize":4,"labelPadding":2,"titleFontSize":10,"titleFontWeight":"bold","titlePadding":8,"domainWidth":1.2,"tickWidth":1.2,"labelOverlap":false}},
    "shape":{"field":"g","type":"nominal","scale":{"domain":["Control","CH","HCC","Post-oper"],"range":["circle","triangle-up","square","triangle-down"]},"legend":null}}},
  {"data":{"name":"mean"},"transform":[{"filter":"datum.p=='C3'"}],"mark":{"type":"tick","color":"#000","thickness":1.5,"size":28,"orient":"horizontal"},"encoding":{"x":{"field":"g","type":"nominal","title":null},"y":{"field":"m","type":"quantitative"}}},
  {"data":{"name":"mean"},"transform":[{"filter":"datum.p=='C3' && isValid(datum.lo)"}],"mark":{"type":"rule","color":"#000","strokeWidth":1.5},"encoding":{"x":{"field":"g","type":"nominal","title":null},"y":{"field":"lo","type":"quantitative"},"y2":{"field":"hi"}}},
  {"data":{"name":"mean"},"transform":[{"filter":"datum.p=='C3' && isValid(datum.lo)"}],"mark":{"type":"tick","color":"#000","thickness":1.5,"size":14,"orient":"horizontal"},"encoding":{"x":{"field":"g","type":"nominal","title":null},"y":{"field":"lo","type":"quantitative"}}},
  {"data":{"name":"mean"},"transform":[{"filter":"datum.p=='C3' && isValid(datum.lo)"}],"mark":{"type":"tick","color":"#000","thickness":1.5,"size":14,"orient":"horizontal"},"encoding":{"x":{"field":"g","type":"nominal","title":null},"y":{"field":"hi","type":"quantitative"}}},
  {"data":{"name":"sig"},"transform":[{"filter":"datum.p=='C3'"}],"mark":{"type":"rule","color":"#000","strokeWidth":1.8},"encoding":{"x":{"field":"a","type":"nominal","title":null},"x2":{"field":"b"},"y":{"field":"y","type":"quantitative"}}},
  {"data":{"name":"sig"},"transform":[{"filter":"datum.p=='C3'"}],"mark":{"type":"tick","color":"#000","thickness":1.8,"size":7,"orient":"vertical"},"encoding":{"x":{"field":"a","type":"nominal","title":null},"y":{"field":"y","type":"quantitative"}}},
  {"data":{"name":"sig"},"transform":[{"filter":"datum.p=='C3'"}],"mark":{"type":"tick","color":"#000","thickness":1.8,"size":7,"orient":"vertical"},"encoding":{"x":{"field":"b","type":"nominal","title":null},"y":{"field":"y","type":"quantitative"}}},
  {"data":{"name":"sig"},"transform":[{"filter":"datum.p=='C3' && datum.t=='ns'"}],"mark":{"type":"text","fontSize":13,"baseline":"alphabetic","dy":-2.5,"color":"#000"},"encoding":{"x":{"field":"m","type":"nominal","title":null},"y":{"field":"y","type":"quantitative"},"text":{"field":"t"}}},
  {"data":{"name":"sig"},"transform":[{"filter":"datum.p=='C3' && datum.t!='ns'"}],"mark":{"type":"text","fontSize":13,"baseline":"alphabetic","dy":2,"color":"#000"},"encoding":{"x":{"field":"m","type":"nominal","title":null},"y":{"field":"y","type":"quantitative"},"text":{"field":"t"}}}
 ]},
{"width":39,"height":258,"title":{"text":"D","anchor":"start","frame":"group","fontSize":11,"fontWeight":"bold","offset":2,"dx":5},"data":{"values":[]},"mark":"point"},
{"width":225,"height":225,
 "title":{"text":"ROC Curve","anchor":"middle","frame":"bounds","fontSize":10,"fontWeight":"bold","offset":15},
 "view":{"fill":"#f0f0f0","stroke":"#000","strokeWidth":1},
 "data":{"name":"roc"},
 "mark":{"type":"line","strokeWidth":1.5},
 "encoding":{
  "x":{"field":"x","type":"quantitative","scale":{"domain":[0,1],"nice":false},"axis":{"title":"1 - Specificity","values":[0,0.2,0.4,0.6,0.8,1],"tickCount":20,"format":".1f","labelFontSize":8,"labelColor":"#333","titleFontSize":10,"titleFontWeight":"bold","tickSize":4,"labelPadding":2,"titlePadding":6,"labelOverlap":false}},
  "y":{"field":"y","type":"quantitative","scale":{"domain":[0,1],"nice":false},"axis":{"title":"Sensitivity","values":[0,0.2,0.4,0.6,0.8,1],"tickCount":20,"format":".1f","labelFontSize":8,"labelColor":"#333","titleFontSize":10,"titleFontWeight":"bold","tickSize":4,"labelPadding":2,"titlePadding":5,"labelOverlap":false}},
  "color":{"field":"s","type":"nominal","scale":{"domain":["circ_0009582","circ_0037120","circ_0140117","Factors","AFP","Merged","Reference Line"],"range":["#5b6cc6","#3dbf3d","#c9c29e","#9846a8","#f0ef4e","#f06262","#49c9c9"]},
   "legend":{"title":"Source of the Curve","orient":"right","offset":8,"padding":0,"titleFontSize":9,"titleFontWeight":"normal","titleColor":"#222","titlePadding":5,"labelFontSize":7.6,"labelColor":"#222","symbolType":"stroke","symbolSize":100,"symbolStrokeWidth":1.5,"rowPadding":0,"labelOffset":3}},
  "order":{"field":"i","type":"quantitative"}}},
{"width":245,"height":258,
 "layer":[
  {"data":{"name":"ln"},"mark":{"type":"rule","color":"#666","strokeWidth":0.8},
   "encoding":{"x":{"field":"x","type":"quantitative","scale":{"domain":[0,100],"range":[75,429],"nice":false,"zero":false},"axis":null},"x2":{"field":"x2"},"y":{"field":"y","type":"quantitative","scale":{"domain":[-6.11,11.81],"reverse":true,"nice":false,"zero":false},"axis":null},"y2":{"field":"y2"}}},
  {"data":{"name":"lnT"},"mark":{"type":"rule","color":"#111","strokeWidth":1.6},
   "encoding":{"x":{"field":"x","type":"quantitative","axis":null},"x2":{"field":"x2"},"y":{"field":"y","type":"quantitative","axis":null},"y2":{"field":"y2"}}},
  {"data":{"name":"auc"},"mark":{"type":"text","fontSize":8.7,"align":"left","baseline":"middle","color":"#222"},
   "encoding":{"x":{"datum":0.6,"type":"quantitative","axis":null},"y":{"field":"k","type":"quantitative","axis":null},"text":{"field":"n"}}},
  {"data":{"name":"auc"},"transform":[{"fold":["a","se","sig","lo","hi"]},{"lookup":"key","from":{"data":{"name":"cols"},"key":"key","fields":["x"]}}],
   "mark":{"type":"text","fontSize":8.7,"align":"right","baseline":"middle","color":"#222"},
   "encoding":{"x":{"field":"x","type":"quantitative","axis":null},"y":{"field":"k","type":"quantitative","axis":null},"text":{"field":"value"}}},
  {"data":{"name":"hdrL"},"mark":{"type":"text","fontSize":8.2,"align":"left","baseline":"middle","color":"#222"},
   "encoding":{"x":{"field":"x","type":"quantitative","axis":null},"y":{"field":"y","type":"quantitative","axis":null},"text":{"field":"t"}}},
  {"data":{"name":"hdrC"},"mark":{"type":"text","fontSize":8.2,"align":"center","baseline":"middle","color":"#222"},
   "encoding":{"x":{"field":"x","type":"quantitative","axis":null},"y":{"field":"y","type":"quantitative","axis":null},"text":{"field":"t"}}},
  {"data":{"name":"ttl"},"mark":{"type":"text","fontSize":10.5,"fontWeight":"bold","align":"center","baseline":"middle","color":"#111"},
   "encoding":{"x":{"field":"x","type":"quantitative","axis":null},"y":{"field":"y","type":"quantitative","axis":null},"text":{"field":"t"}}},
  {"data":{"name":"fn"},"mark":{"type":"text","fontSize":8.7,"align":"left","baseline":"middle","color":"#222"},
   "encoding":{"x":{"field":"x","type":"quantitative","axis":null},"y":{"field":"y","type":"quantitative","axis":null},"text":{"field":"t"}}}
 ]},
{"width":1,"height":1,"data":{"values":[]},"mark":"point"}
]
}
